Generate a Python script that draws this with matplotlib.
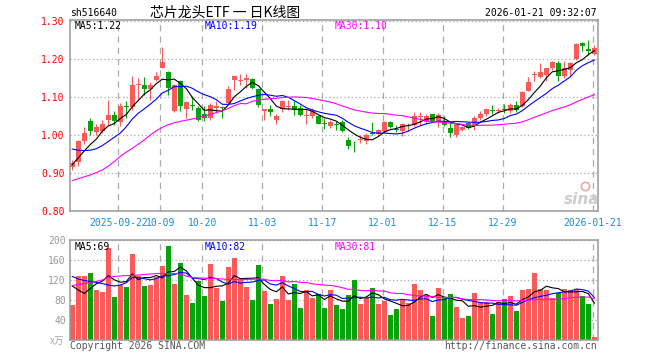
import numpy as np
import pandas as pd
import matplotlib
matplotlib.use("Agg")
import matplotlib.pyplot as plt
from matplotlib.lines import Line2D

plt.rcParams["font.family"] = ["DejaVu Sans Mono", "Noto Sans CJK SC"]

W, H = 660, 360
RED = "#fa5a5a"
GREEN = "#06a30a"
GRID = "#aaaaaa"

# daily K bars, 2025-09-10 .. 2026-01-21 (88 trading days)
opens = [0.915, 0.928, 0.985, 1.038, 1.009, 1.011, 1.040, 1.052, 1.034, 1.077,
         1.073, 1.131, 1.131, 1.121, 1.144, 1.176, 1.167, 1.062, 1.143, 1.069,
         1.080, 1.071, 1.056, 1.046, 1.071, 1.073, 1.084, 1.144, 1.141, 1.144,
         1.147, 1.121, 1.062, 1.069, 1.039, 1.069, 1.074, 1.077, 1.071, 1.051,
         1.049, 1.049, 1.032, 1.023, 1.029, 1.034, 0.987, 0.976, 0.987, 0.985,
         1.005, 1.003, 1.010, 1.034, 1.016, 1.011, 1.025, 1.027, 1.048, 1.034,
         1.055, 1.034, 1.034, 1.019, 1.001, 1.014, 1.032, 1.023, 1.046, 1.056,
         1.067, 1.062, 1.069, 1.062, 1.080, 1.075, 1.117, 1.157, 1.153, 1.159,
         1.175, 1.189, 1.154, 1.172, 1.201, 1.242, 1.227, 1.213]
highs = [0.935, 0.988, 1.020, 1.046, 1.029, 1.040, 1.093, 1.064, 1.084, 1.089,
         1.154, 1.150, 1.152, 1.139, 1.165, 1.231, 1.168, 1.134, 1.146, 1.089,
         1.102, 1.075, 1.075, 1.084, 1.089, 1.077, 1.128, 1.156, 1.161, 1.161,
         1.149, 1.124, 1.069, 1.080, 1.056, 1.093, 1.091, 1.089, 1.078, 1.068,
         1.071, 1.052, 1.045, 1.040, 1.038, 1.040, 0.996, 0.985, 1.001, 1.005,
         1.034, 1.017, 1.036, 1.036, 1.025, 1.032, 1.032, 1.061, 1.061, 1.054,
         1.056, 1.058, 1.049, 1.032, 1.032, 1.023, 1.034, 1.049, 1.062, 1.071,
         1.078, 1.071, 1.082, 1.084, 1.089, 1.115, 1.152, 1.169, 1.189, 1.176,
         1.196, 1.196, 1.194, 1.191, 1.242, 1.246, 1.251, 1.238]
lows = [0.909, 0.918, 0.975, 1.001, 0.999, 1.005, 1.027, 1.027, 1.023, 1.045,
        1.067, 1.093, 1.106, 1.093, 1.141, 1.175, 1.106, 1.061, 1.062, 1.046,
        1.067, 1.036, 1.036, 1.040, 1.058, 1.046, 1.082, 1.119, 1.131, 1.124,
        1.121, 1.073, 1.039, 1.049, 1.029, 1.061, 1.067, 1.052, 1.049, 1.029,
        1.046, 1.029, 1.017, 1.018, 1.014, 1.007, 0.964, 0.955, 0.979, 0.976,
        1.001, 1.001, 1.005, 1.018, 1.007, 0.998, 1.010, 1.023, 1.027, 1.029,
        1.034, 1.020, 1.023, 0.996, 0.996, 1.011, 1.016, 1.014, 1.040, 1.049,
        1.055, 1.058, 1.058, 1.058, 1.060, 1.073, 1.115, 1.143, 1.150, 1.141,
        1.172, 1.141, 1.150, 1.154, 1.198, 1.222, 1.210, 1.210]
closes = [0.926, 0.983, 1.004, 1.011, 1.022, 1.030, 1.052, 1.036, 1.077, 1.074,
          1.132, 1.135, 1.120, 1.132, 1.156, 1.192, 1.124, 1.132, 1.075, 1.087,
          1.077, 1.040, 1.046, 1.080, 1.077, 1.070, 1.122, 1.154, 1.144, 1.149,
          1.124, 1.078, 1.069, 1.060, 1.049, 1.090, 1.075, 1.067, 1.053, 1.053,
          1.064, 1.030, 1.030, 1.033, 1.025, 1.010, 0.970, 0.975, 0.989, 0.999,
          1.003, 1.014, 1.034, 1.020, 1.014, 1.029, 1.027, 1.051, 1.051, 1.051,
          1.036, 1.052, 1.027, 1.004, 1.029, 1.020, 1.018, 1.045, 1.056, 1.069,
          1.064, 1.064, 1.066, 1.080, 1.067, 1.113, 1.139, 1.159, 1.166, 1.175,
          1.192, 1.154, 1.176, 1.189, 1.239, 1.233, 1.220, 1.229]
# volume, 万手
volumes = [71, 128, 128, 135, 100, 96, 185, 86, 111, 106,
           172, 128, 108, 110, 127, 148, 188, 112, 154, 90,
           74, 118, 88, 153, 104, 78, 146, 164, 122, 106,
           80, 150, 98, 72, 82, 128, 80, 112, 64, 100,
           85, 92, 64, 100, 70, 63, 90, 120, 72, 85,
           104, 72, 79, 50, 62, 80, 75, 112, 100, 90,
           48, 104, 87, 92, 66, 44, 48, 94, 76, 76,
           52, 77, 82, 88, 58, 100, 102, 134, 102, 100,
           84, 94, 102, 100, 102, 88, 72, 6]

# moving-average values before enough bars are in the window
ma5_head = [0.922, 0.940, 0.958, 0.975]
ma10_head = [0.963, 0.960, 0.959, 0.960, 0.964, 0.972, 0.983, 0.994, 1.005]
ma30_head = [0.880, 0.885, 0.890, 0.895, 0.901, 0.908, 0.918, 0.930, 0.944, 0.955,
             0.965, 0.976, 0.987, 1.000, 1.011, 1.020, 1.027, 1.032, 1.036, 1.039,
             1.042, 1.046, 1.050, 1.054, 1.059, 1.064, 1.070, 1.077, 1.083]
vma5_head = [108, 100, 93, 103]
vma10_head = [127, 122, 119, 117, 115, 113, 110, 108, 110]
vma30_head = [109, 111, 113, 115, 117, 120, 125, 127, 128, 129,
              129, 130, 131, 132, 133, 133, 133, 133, 132, 128,
              125, 124, 124, 123, 123, 122, 121, 121, 121]

date_pos = [8, 15, 22, 32, 42, 52, 62, 72, 87]
date_labels = ["2025-09-22", "10-09", "10-20", "11-03", "11-17",
               "12-01", "12-15", "12-29", "2026-01-21"]


def moving_avg(values, n, head):
    ma = pd.Series(values, dtype=float).rolling(n).mean().to_numpy()
    ma[:len(head)] = head
    return ma


opens, highs, lows, closes = map(np.array, (opens, highs, lows, closes))
volumes = np.array(volumes, dtype=float)
x = np.arange(len(closes))
colors = np.where(closes >= opens, RED, GREEN)

fig = plt.figure(figsize=(W / 100, H / 100), dpi=100)


def box(l, t, r, b):
    return [l / W, 1 - b / H, (r - l) / W, (b - t) / H]


def fxy(px, py):
    return px / W, 1 - py / H


ax = fig.add_axes(box(70, 20, 597.5, 211))
axv = fig.add_axes(box(70, 240, 597.5, 340))

for a in (ax, axv):
    a.set_xlim(-0.38, 87.53)
    for s in a.spines.values():
        s.set_color("#999999")
        s.set_linewidth(1.1)
    a.set_xticks(np.array(date_pos) - 0.3)
    a.grid(axis="x", color=GRID, linewidth=0.9, linestyle=(0, (5, 4)))
    a.grid(axis="y", color=GRID, linewidth=0.9, linestyle=(0, (1, 2)))
    a.tick_params(length=0)
    a.set_axisbelow(True)

# price panel
ax.vlines(x, lows, highs, colors=colors, linewidth=0.8)
body_lo = np.minimum(opens, closes)
body_h = np.maximum(np.abs(closes - opens), 0.0025)
ax.bar(x, body_h, bottom=body_lo, width=0.78, color=colors, linewidth=0)
ax.plot(x, moving_avg(closes, 5, ma5_head), color="black", linewidth=0.8)
ax.plot(x, moving_avg(closes, 10, ma10_head), color="#0000ff", linewidth=0.8)
ax.plot(x, moving_avg(closes, 30, ma30_head), color="#ff00ff", linewidth=0.8)
ax.set_ylim(0.80, 1.3026)
ax.set_yticks([0.8, 0.9, 1.0, 1.1, 1.2, 1.3])
ax.set_yticklabels(["0.80", "0.90", "1.00", "1.10", "1.20", "1.30"])
ax.tick_params(axis="y", labelcolor="#ff0000", labelsize=7, pad=4)
ax.set_xticklabels(date_labels)
ax.tick_params(axis="x", labelcolor="#1a8cd8", labelsize=7, pad=5)

# volume panel
axv.bar(x, volumes, width=0.78, color=colors, linewidth=0)
axv.plot(x, moving_avg(volumes, 5, vma5_head), color="black", linewidth=0.8)
axv.plot(x, moving_avg(volumes, 10, vma10_head), color="#0000ff", linewidth=0.8)
axv.plot(x, moving_avg(volumes, 30, vma30_head), color="#ff00ff", linewidth=0.8)
axv.set_ylim(0, 200)
axv.set_yticks([0, 40, 80, 120, 160, 200])
axv.set_yticklabels(["", "40", "80", "120", "160", "200"])
axv.tick_params(axis="y", labelcolor="#999999", labelsize=7, pad=3)
axv.set_xticklabels([])

# texts
fs = 7
fig.text(*fxy(70, 13), "sh516640", fontsize=fs, va="center", ha="left")
fig.text(*fxy(150, 13), "芯片龙头ETF 一 日K线图", fontsize=10, va="center", ha="left",
         family=["Noto Sans CJK SC", "DejaVu Sans"])
fig.text(*fxy(597, 13), "2026-01-21 09:32:07", fontsize=fs, va="center", ha="right")

fig.text(*fxy(75, 26), "MA5:1.22", fontsize=fs, va="center", color="black")
fig.text(*fxy(205, 26), "MA10:1.19", fontsize=fs, va="center", color="#0000ff")
fig.text(*fxy(335, 26), "MA30:1.10", fontsize=fs, va="center", color="#ff00ff")
fig.text(*fxy(75, 247), "MA5:69", fontsize=fs, va="center", color="black")
fig.text(*fxy(205, 247), "MA10:82", fontsize=fs, va="center", color="#0000ff")
fig.text(*fxy(335, 247), "MA30:81", fontsize=fs, va="center", color="#ff00ff")

fig.text(*fxy(64, 341), "x万", fontsize=fs, va="center", ha="right", color="#aaaaaa",
         family=["Noto Sans CJK SC", "DejaVu Sans"])
fig.text(*fxy(70, 346), "Copyright 2026 SINA.COM", fontsize=fs, va="center", color="#555555")
fig.text(*fxy(597, 346), "http://finance.sina.com.cn", fontsize=fs, va="center",
         ha="right", color="#555555")

# sina watermark
fig.text(*fxy(582, 199), "sina", fontsize=11, va="center", ha="center", color="#cccccc",
         family="DejaVu Sans", style="italic", weight="bold")
ex, ey = fxy(585, 186)
fig.add_artist(Line2D([ex], [ey], marker="o", markersize=6, markerfacecolor="none",
                      markeredgecolor="#e6a8a8", markeredgewidth=1.2,
                      transform=fig.transFigure))

fig.savefig("out.png", dpi=100)
